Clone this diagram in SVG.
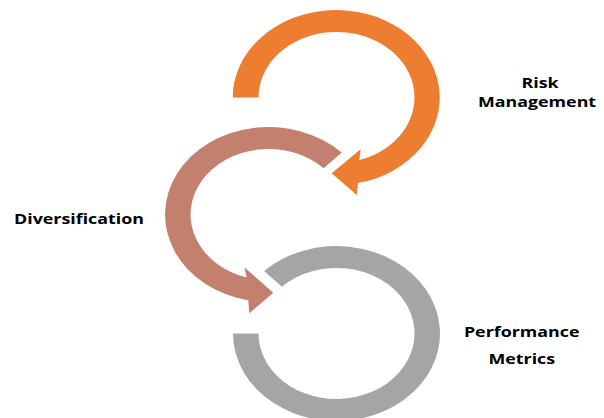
<svg xmlns="http://www.w3.org/2000/svg" width="604" height="418" viewBox="0 0 604 418">
  <style>
    .lbl { font-family: "Open Sans", "Liberation Sans", sans-serif; font-weight: bold; font-size: 15px; fill: #000; text-anchor: middle; }
    .risk { fill: #ED7D31; }
    .div { fill: #C4806F; }
    .perf { fill: #A5A5A5; }
  </style>
  <rect width="604" height="418" fill="#fff"/>

  <!-- Risk Management: orange ring ending in an arrowhead -->
  <g id="risk-management">
    <path class="risk" d="M 232.7 97.5 A 103.5 87.5 0 1 1 358.0 183.1 L 356.7 195 L 331.7 173.3 L 360.7 149.3 L 359.3 160.1 A 78 65.5 0 1 0 258.5 97.5 Z"/>
    <text class="lbl" transform="translate(540 87.5) scale(1.19 1)">Risk</text>
    <text class="lbl" transform="translate(537 107) scale(1.19 1)">Management</text>
  </g>

  <!-- Diversification: rose ring ending in an arrowhead -->
  <g id="diversification">
    <path class="div" d="M 341.7 152.6 A 103.5 87.5 0 1 0 248.3 300.3 L 249.3 313.3 L 273.3 292.7 L 244.3 267.3 L 246.7 277.4 A 78 65.5 0 1 1 323.7 168.2 Z"/>
    <text class="lbl" transform="translate(79 223.5) scale(1.19 1)">Diversification</text>
  </g>

  <!-- Performance Metrics: grey open ring -->
  <g id="performance-metrics">
    <path class="perf" d="M 264.1 271.0 A 103.5 87.5 0 1 1 233 333.5 L 258.5 333.5 A 78 65.5 0 1 0 281.9 286.7 Z"/>
    <text class="lbl" transform="translate(521.7 337) scale(1.19 1)">Performance</text>
    <text class="lbl" transform="translate(521.8 363.5) scale(1.19 1)">Metrics</text>
  </g>

  <g id="connectors"></g>
</svg>
